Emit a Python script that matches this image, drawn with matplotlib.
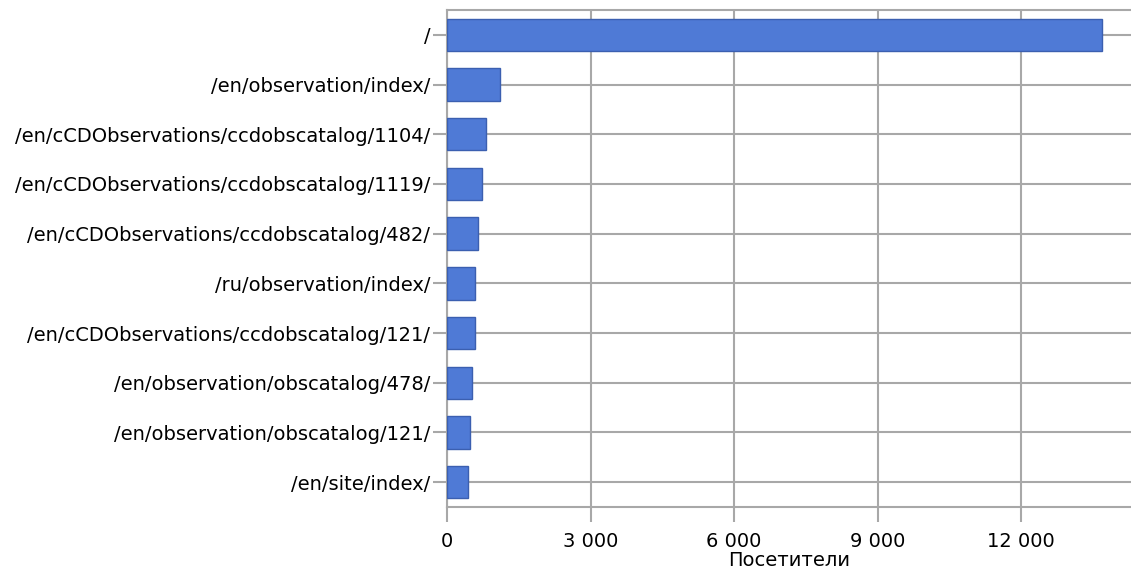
import matplotlib
matplotlib.use("Agg")
import matplotlib.pyplot as plt
from matplotlib.ticker import FuncFormatter

pages = ["/", "/en/observation/index/", "/en/cCDObservations/ccdobscatalog/1104/",
         "/en/cCDObservations/ccdobscatalog/1119/", "/en/cCDObservations/ccdobscatalog/482/",
         "/ru/observation/index/", "/en/cCDObservations/ccdobscatalog/121/",
         "/en/observation/obscatalog/478/", "/en/observation/obscatalog/121/",
         "/en/site/index/"]
visitors = [13690, 1100, 805, 725, 640, 595, 595, 520, 475, 430]
xticks = [0, 3000, 6000, 9000, 12000]
xlabel = "Посетители"

plt.rcParams['font.family'] = ['DejaVu Sans']
fig = plt.figure(figsize=(11.31, 5.73), dpi=100)
ax = fig.add_axes([447/1131, 1 - 507/573, 1 - 447/1131, 497/573])

grid = '#a8a8a8'
fs = 14
pos = list(range(len(pages)))
ax.barh(pos, visitors, height=0.65, color='#4f7ad6', edgecolor='#3b5fb0', linewidth=1, zorder=3)
ax.set_yticks(pos)
ax.set_yticklabels(pages, fontsize=fs)
ax.set_ylim(len(pages) - 0.5, -0.5)
ax.set_xlim(0, 14295)
ax.set_xticks(xticks)
ax.xaxis.set_major_formatter(FuncFormatter(lambda v, p: f"{int(v):,}".replace(",", " ")))
ax.tick_params(axis='x', labelsize=fs, length=11, width=1.5, color=grid, pad=7)
ax.tick_params(axis='y', length=10, width=1.5, color=grid, pad=2)
ax.grid(True, color=grid, linewidth=1.5, zorder=0)
ax.set_axisbelow(True)
for s in ['left', 'top', 'bottom']:
    ax.spines[s].set_color(grid)
    ax.spines[s].set_linewidth(1.5)
ax.spines['right'].set_visible(False)
ax.set_xlabel(xlabel, fontsize=fs, labelpad=0)

fig.savefig("out.png", dpi=100)
